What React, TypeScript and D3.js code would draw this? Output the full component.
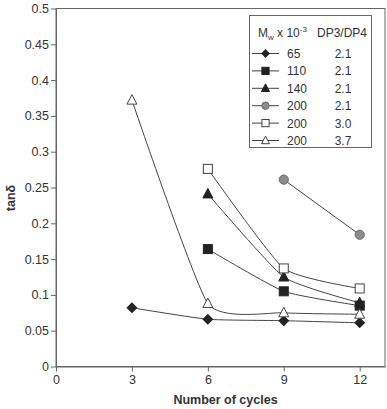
import React, { useEffect, useRef } from 'react'
import * as d3 from 'd3'

// number of cycles
const cycles = [3, 6, 9, 12]

// tan delta values per sample (null = not measured)
const mw65 = [0.082, 0.066, 0.064, 0.061]
const mw110 = [null, 0.164, 0.105, 0.085]
const mw140 = [null, 0.241, 0.125, 0.089]
const mw200a = [null, null, 0.261, 0.184]
const mw200b = [null, 0.276, 0.137, 0.109]
const mw200c = [0.372, 0.088, 0.075, 0.073]

const mwLabels = ['65', '110', '140', '200', '200', '200']
const dpLabels = ['2.1', '2.1', '2.1', '2.1', '3.0', '3.7']
const symbols = ['diamond', 'square', 'triangle', 'circle', 'squareOpen', 'triangleOpen']

const xTicks = [0, 3, 6, 9, 12]
const yTicks = [0, 0.05, 0.1, 0.15, 0.2, 0.25, 0.3, 0.35, 0.4, 0.45, 0.5]

const W = 387
const H = 409
const left = 56
const right = 385
const top = 8.5
const bottom = 366.5
const axisColor = '#666'
const textColor = '#333'
const lineColor = '#444'
const font = 'Liberation Sans, Arial, sans-serif'

function drawSymbol(g: any, kind: string, x: number, y: number, s = 1) {
  if (kind === 'diamond') {
    g.append('path')
      .attr('d', `M${x},${y - 5.5 * s}L${x + 5.5 * s},${y}L${x},${y + 5.5 * s}L${x - 5.5 * s},${y}Z`)
      .attr('fill', '#222')
  } else if (kind === 'square' || kind === 'squareOpen') {
    g.append('rect')
      .attr('x', x - 4.5 * s).attr('y', y - 4.5 * s)
      .attr('width', 9 * s).attr('height', 9 * s)
      .attr('fill', kind === 'square' ? '#222' : '#fff')
      .attr('stroke', kind === 'square' ? '#222' : '#444')
      .attr('stroke-width', 1)
  } else if (kind === 'triangle' || kind === 'triangleOpen') {
    g.append('path')
      .attr('d', `M${x},${y - 5.5 * s}L${x + 5 * s},${y + 4 * s}L${x - 5 * s},${y + 4 * s}Z`)
      .attr('fill', kind === 'triangle' ? '#222' : '#fff')
      .attr('stroke', kind === 'triangle' ? '#222' : '#444')
      .attr('stroke-width', 1)
  } else if (kind === 'circle') {
    g.append('circle')
      .attr('cx', x).attr('cy', y).attr('r', 4.6 * s)
      .attr('fill', '#8c8c8c')
      .attr('stroke', '#6a6a6a')
  }
}

export default function App() {
  const ref = useRef<SVGSVGElement>(null)

  useEffect(() => {
    const svg = d3.select(ref.current)
    svg.selectAll('*').remove()

    const x = d3.scaleLinear().domain([0, 13]).range([left, right])
    const y = d3.scaleLinear().domain([0, 0.5]).range([bottom, top])

    // frame
    svg.append('rect')
      .attr('x', left).attr('y', top)
      .attr('width', right - left).attr('height', bottom - top)
      .attr('fill', 'none').attr('stroke', axisColor).attr('stroke-width', 1)

    // y axis
    const yAxis = svg.append('g')
      .attr('transform', `translate(${left},0)`)
      .call(d3.axisLeft(y).tickValues(yTicks).tickSize(5).tickSizeOuter(0)
        .tickFormat((d: any) => String(+d.toFixed(2))))
    yAxis.select('.domain').attr('stroke', axisColor)
    yAxis.selectAll('line').attr('stroke', axisColor)
    yAxis.selectAll('text')
      .attr('font-family', font).attr('font-size', 12.5).attr('fill', textColor).attr('x', -7)

    // x axis
    const xAxis = svg.append('g')
      .attr('transform', `translate(0,${bottom})`)
      .call(d3.axisBottom(x).tickValues(xTicks).tickSize(5).tickSizeOuter(0))
    xAxis.select('.domain').attr('stroke', axisColor)
    xAxis.selectAll('line').attr('stroke', axisColor)
    xAxis.selectAll('text')
      .attr('font-family', font).attr('font-size', 12.5).attr('fill', textColor).attr('y', 9)

    svg.append('text')
      .attr('x', (left + right) / 2 + 5).attr('y', 404)
      .attr('text-anchor', 'middle')
      .attr('font-family', font).attr('font-size', 12.5).attr('font-weight', 'bold')
      .attr('fill', textColor)
      .text('Number of cycles')

    svg.append('text')
      .attr('transform', 'translate(15,198) rotate(-90)')
      .attr('text-anchor', 'middle')
      .attr('font-family', font).attr('font-size', 12.5).attr('font-weight', 'bold')
      .attr('fill', textColor)
      .text('tanδ')

    const series = [mw65, mw110, mw140, mw200a, mw200b, mw200c]
    const line = d3.line<any>()
      .x((d: any) => x(d[0]))
      .y((d: any) => y(d[1]))
      .curve(d3.curveCardinal.tension(0.5))

    const g = svg.append('g')
    series.forEach((vals) => {
      const pts = cycles.map((c, i) => [c, vals[i]]).filter(p => p[1] != null)
      g.append('path')
        .attr('d', line(pts))
        .attr('fill', 'none')
        .attr('stroke', lineColor)
        .attr('stroke-width', 1)
    })
    series.forEach((vals, si) => {
      cycles.forEach((c, i) => {
        if (vals[i] != null) drawSymbol(g, symbols[si], x(c), y(vals[i] as number))
      })
    })

    // legend
    const lg = svg.append('g')
    lg.append('rect')
      .attr('x', 249.5).attr('y', 15.5).attr('width', 122).attr('height', 132)
      .attr('fill', '#fff').attr('stroke', axisColor)
    const head = lg.append('text')
      .attr('x', 258).attr('y', 37)
      .attr('font-family', font).attr('font-size', 12).attr('fill', textColor)
    head.append('tspan').text('M')
    head.append('tspan').attr('font-size', 8).attr('dy', 3).text('w')
    head.append('tspan').attr('dy', -3).text(' x 10')
    head.append('tspan').attr('font-size', 8).attr('dy', -5).text('-3')
    lg.append('text')
      .attr('x', 342).attr('y', 37).attr('text-anchor', 'middle')
      .attr('font-family', font).attr('font-size', 12).attr('fill', textColor)
      .text('DP3/DP4')

    mwLabels.forEach((lab, i) => {
      const cy = 53.5 + i * 17.4
      lg.append('line')
        .attr('x1', 252).attr('x2', 279).attr('y1', cy).attr('y2', cy)
        .attr('stroke', lineColor)
      drawSymbol(lg, symbols[i], 265.5, cy, 0.8)
      lg.append('text')
        .attr('x', 287).attr('y', cy + 4.5)
        .attr('font-family', font).attr('font-size', 12).attr('fill', textColor)
        .text(lab)
      lg.append('text')
        .attr('x', 343).attr('y', cy + 4.5).attr('text-anchor', 'middle')
        .attr('font-family', font).attr('font-size', 12).attr('fill', textColor)
        .text(dpLabels[i])
    })
  }, [])

  return (
    <svg ref={ref} width={W} height={H}
      style={{ position: 'absolute', left: 0, top: 0, background: '#fff' }} />
  )
}
